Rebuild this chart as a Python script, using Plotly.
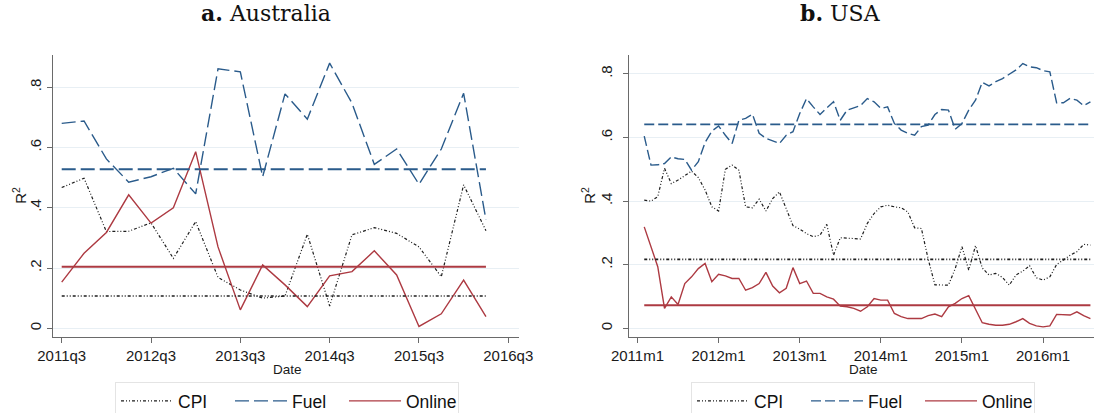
import plotly.graph_objects as go

# ---------------- Australia: quarterly rolling R-squared ----------------
au_quarters = ["2011q3", "2011q4", "2012q1", "2012q2", "2012q3", "2012q4",
               "2013q1", "2013q2", "2013q3", "2013q4", "2014q1", "2014q2",
               "2014q3", "2014q4", "2015q1", "2015q2", "2015q3", "2015q4",
               "2016q1", "2016q2"]
au_cpi = [0.467, 0.498, 0.321, 0.322, 0.350, 0.232, 0.354, 0.169, 0.127, 0.100,
          0.107, 0.312, 0.074, 0.310, 0.334, 0.315, 0.270, 0.171, 0.476, 0.324]
au_fuel = [0.680, 0.688, 0.562, 0.485, 0.503, 0.531, 0.446, 0.861, 0.851, 0.503,
           0.778, 0.694, 0.880, 0.747, 0.544, 0.595, 0.478, 0.595, 0.780, 0.360]
au_online = [0.153, 0.249, 0.318, 0.443, 0.349, 0.400, 0.586, 0.270, 0.061, 0.210,
             0.144, 0.072, 0.174, 0.188, 0.257, 0.177, 0.006, 0.048, 0.160, 0.039]
# full-sample R-squared reference levels
au_cpi_full = 0.107
au_fuel_full = 0.528
au_online_full = 0.204
au_ticks = ["2011q3", "2012q3", "2013q3", "2014q3", "2015q3", "2016q3"]

# ---------------- USA: monthly rolling R-squared ----------------
us_months = [f"{yr}m{mo}" for yr in range(2011, 2017) for mo in range(1, 13)][1:68]
us_cpi = [0.403, 0.400, 0.414, 0.503, 0.455, 0.466, 0.480, 0.494, 0.474, 0.435,
          0.382, 0.369, 0.500, 0.513, 0.497, 0.382, 0.379, 0.406, 0.369, 0.408,
          0.429, 0.377, 0.323, 0.312, 0.298, 0.288, 0.293, 0.327, 0.230, 0.285,
          0.283, 0.281, 0.281, 0.330, 0.361, 0.382, 0.387, 0.382, 0.379, 0.366,
          0.316, 0.314, 0.218, 0.137, 0.136, 0.136, 0.188, 0.257, 0.183, 0.260,
          0.190, 0.168, 0.173, 0.160, 0.136, 0.168, 0.180, 0.197, 0.159, 0.152,
          0.162, 0.201, 0.215, 0.230, 0.241, 0.264, 0.262]
us_fuel = [0.604, 0.513, 0.514, 0.518, 0.539, 0.533, 0.531, 0.497, 0.524, 0.584,
           0.620, 0.636, 0.607, 0.581, 0.654, 0.660, 0.673, 0.613, 0.597, 0.588,
           0.581, 0.607, 0.618, 0.675, 0.722, 0.696, 0.672, 0.693, 0.712, 0.654,
           0.686, 0.693, 0.700, 0.722, 0.712, 0.691, 0.696, 0.644, 0.623, 0.613,
           0.607, 0.634, 0.639, 0.672, 0.688, 0.686, 0.626, 0.644, 0.686, 0.717,
           0.773, 0.762, 0.775, 0.785, 0.798, 0.812, 0.832, 0.822, 0.819, 0.810,
           0.806, 0.709, 0.709, 0.723, 0.717, 0.700, 0.712]
us_online = [0.319, 0.257, 0.194, 0.063, 0.099, 0.075, 0.141, 0.162, 0.188, 0.204,
             0.147, 0.170, 0.165, 0.157, 0.157, 0.120, 0.128, 0.141, 0.176, 0.133,
             0.112, 0.126, 0.191, 0.141, 0.149, 0.110, 0.110, 0.099, 0.092, 0.070,
             0.068, 0.063, 0.054, 0.068, 0.094, 0.089, 0.089, 0.047, 0.037, 0.031,
             0.031, 0.031, 0.040, 0.045, 0.037, 0.068, 0.079, 0.094, 0.103, 0.058,
             0.018, 0.013, 0.010, 0.010, 0.013, 0.021, 0.031, 0.016, 0.008, 0.005,
             0.008, 0.044, 0.042, 0.042, 0.052, 0.040, 0.031]
us_cpi_full = 0.217
us_fuel_full = 0.641
us_online_full = 0.073
us_ticks = ["2011m1", "2012m1", "2013m1", "2014m1", "2015m1", "2016m1"]

r2_ticks = [0, 0.2, 0.4, 0.6, 0.8]
r2_ticktext = ["0", ".2", ".4", ".6", ".8"]


def quarter_index(label):
    yr, q = label.split("q")
    return int(yr) * 4 + int(q) - 1


def month_index(label):
    yr, mo = label.split("m")
    return int(yr) * 12 + int(mo) - 1


CPI_COLOR = "#1e1e1e"
FUEL_COLOR = "#2a5b8b"
ONLINE_COLOR = "#ad3a42"
CPI_DASH = "3px,2px,1px,2px,1px,2px"
SANS = "Liberation Sans, Arial, sans-serif"
TEXT = "#1a1a1a"

W, H = 1094, 413

fig = go.Figure()


def add_panel(xa, ya, legend, periods, to_index, cpi, fuel, online,
              cpi_full, fuel_full, online_full, fuel_dash):
    x = [to_index(p) for p in periods]
    series = [
        ("CPI", cpi, dict(color=CPI_COLOR, width=1.2, dash=CPI_DASH)),
        ("Fuel", fuel, dict(color=FUEL_COLOR, width=1.4, dash=fuel_dash)),
        ("Online", online, dict(color=ONLINE_COLOR, width=1.4)),
    ]
    for name, vals, line in series:
        fig.add_trace(go.Scatter(x=x, y=vals, mode="lines", name=name,
                                 line=line, xaxis=xa, yaxis=ya, legend=legend,
                                 hoverinfo="skip"))
    levels = [
        (cpi_full, dict(color=CPI_COLOR, width=1.6, dash=CPI_DASH)),
        (fuel_full, dict(color=FUEL_COLOR, width=1.9, dash=fuel_dash)),
        (online_full, dict(color=ONLINE_COLOR, width=1.9)),
    ]
    for val, line in levels:
        fig.add_trace(go.Scatter(x=[x[0], x[-1]], y=[val, val], mode="lines",
                                 line=line, xaxis=xa, yaxis=ya,
                                 showlegend=False, hoverinfo="skip"))


add_panel("x", "y", "legend", au_quarters, quarter_index,
          au_cpi, au_fuel, au_online,
          au_cpi_full, au_fuel_full, au_online_full, "14px,5px")
add_panel("x2", "y2", "legend2", us_months, month_index,
          us_cpi, us_fuel, us_online,
          us_cpi_full, us_fuel_full, us_online_full, "10px,4px")

PLOT_TOP, PLOT_BOTTOM = 55, 336.7
y_domain = [(H - PLOT_BOTTOM) / H, (H - PLOT_TOP) / H]

axis_common = dict(
    showline=True, linecolor="#6a6a6a", linewidth=1.4,
    ticks="outside", ticklen=5, tickwidth=1.2, tickcolor="#6a6a6a",
    tickfont=dict(family=SANS, size=15, color=TEXT),
    zeroline=False, automargin=False,
)

au0 = quarter_index(au_quarters[0])
us0 = month_index("2011m1")

legend_common = dict(
    orientation="h", xanchor="center",
    y=(H - 382) / H, yanchor="top",
    bgcolor="white", bordercolor="#e4e4e4", borderwidth=1,
    font=dict(family=SANS, size=17.5, color="#111111"),
    itemwidth=52, traceorder="normal",
    entrywidth=47, entrywidthmode="pixels",
)


def side_label(text, x, y, angle=0, size=15):
    return dict(text=text, x=x / W, y=(H - y) / H, xref="paper", yref="paper",
                showarrow=False, xanchor="center", yanchor="middle",
                textangle=angle, font=dict(family=SANS, size=size, color=TEXT))


y_mid = (PLOT_TOP + PLOT_BOTTOM) / 2

fig.update_layout(
    width=W, height=H, autosize=False,
    margin=dict(l=0, r=0, t=0, b=0, autoexpand=False),
    paper_bgcolor="white", plot_bgcolor="white",
    xaxis=dict(
        domain=[53 / W, 519 / W], anchor="y",
        range=[au0 - 0.39, au0 + 20.48],
        tickvals=[quarter_index(t) for t in au_ticks], ticktext=au_ticks,
        ticklabelstandoff=0, showgrid=False,
        **axis_common,
    ),
    yaxis=dict(
        domain=y_domain, anchor="x",
        range=[-0.028, 0.907],
        tickvals=r2_ticks, ticktext=r2_ticktext, tickangle=-90,
        ticklabelstandoff=0,
        showgrid=True, gridcolor="#e8eff4", gridwidth=1,
        **axis_common,
    ),
    xaxis2=dict(
        domain=[629.3 / W, 1.0], anchor="y2",
        range=[us0 - 1.21, us0 + 67.53],
        tickvals=[month_index(t) for t in us_ticks], ticktext=us_ticks,
        ticklabelstandoff=0, showgrid=False,
        **axis_common,
    ),
    yaxis2=dict(
        domain=y_domain, anchor="x2",
        range=[-0.026, 0.859],
        tickvals=r2_ticks, ticktext=r2_ticktext, tickangle=-90,
        ticklabelstandoff=5,
        showgrid=True, gridcolor="#e8eff4", gridwidth=1,
        **axis_common,
    ),
    legend=dict(x=287 / W, **legend_common),
    legend2=dict(x=863 / W, **legend_common),
    annotations=[
        dict(text="<b>a.</b> Australia", x=266 / W, y=(H - 13) / H,
             xref="paper", yref="paper", showarrow=False,
             xanchor="center", yanchor="middle",
             font=dict(family="DejaVu Serif, serif", size=22, color="#111111")),
        dict(text="<b>b.</b> USA", x=840 / W, y=(H - 13) / H,
             xref="paper", yref="paper", showarrow=False,
             xanchor="center", yanchor="middle",
             font=dict(family="DejaVu Serif, serif", size=22, color="#111111")),
        side_label("R<sup>2</sup>", 20, y_mid, angle=-90),
        side_label("R<sup>2</sup>", 589, y_mid, angle=-90),
        side_label("Date", 287, 369, size=13.5),
        side_label("Date", 863, 369, size=13.5),
    ],
    showlegend=True,
)

fig.write_html("out.html")
